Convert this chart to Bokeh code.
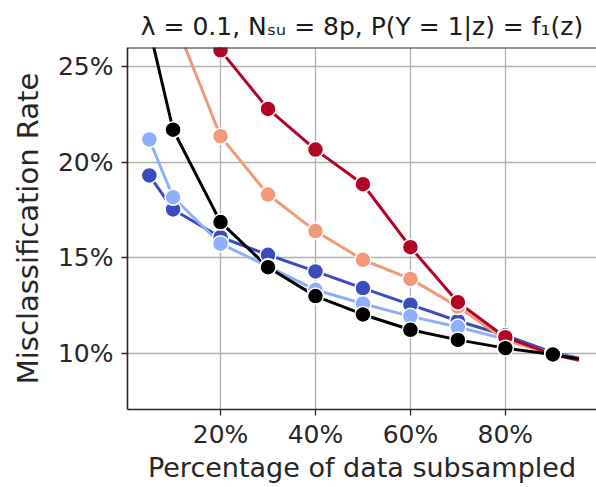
from bokeh.plotting import figure
from bokeh.models import Range1d, FixedTicker, PrintfTickFormatter, Span
from bokeh.embed import file_html
from bokeh.resources import INLINE

# ---- data (percent units) ----
pct = [5, 10, 20, 30, 40, 50, 60, 70, 80, 90]
line_end_x = 95.5

blue_dark = [19.31, 17.53, 16.08, 15.16, 14.29, 13.42, 12.55, 11.70, 10.95, 10.05]
blue_light = [21.19, 18.17, 15.74, 14.55, 13.33, 12.60, 11.94, 11.38, 10.75, 10.00]
salmon_x = [10, 20, 30, 40, 50, 60, 70, 80, 90]
salmon = [27.6, 21.36, 18.31, 16.40, 14.90, 13.90, 12.45, 10.70, 9.95]
red_x = [10, 20, 30, 40, 50, 60, 70, 80, 90]
red = [31.0, 25.85, 22.79, 20.66, 18.85, 15.56, 12.68, 10.85, 9.95]
black = [27.0, 21.70, 16.87, 14.51, 13.00, 12.04, 11.24, 10.71, 10.28, 9.95]
end_vals = {"blue_dark": 9.75, "blue_light": 9.72, "salmon": 9.68, "red": 9.65, "black": 9.72}

series = [
    ("blue_dark", pct, blue_dark, "#3b4cc0"),
    ("blue_light", pct, blue_light, "#8db0fe"),
    ("salmon", salmon_x, salmon, "#f4987a"),
    ("red", red_x, red, "#b40426"),
    ("black", pct, black, "#000000"),
]

x_ticks = [20, 40, 60, 80]
y_ticks = [10, 15, 20, 25]

title = "λ = 0.1, Nₛᵤ = 8p, P(Y = 1|z) = f₁(z)"

p = figure(width=596, height=487, output_backend="svg", toolbar_location=None,
           x_range=Range1d(0.4, 99.2), y_range=Range1d(7.07, 26.0),
           min_border_left=127, min_border_right=0, min_border_top=47,
           min_border_bottom=78, title=title)

p.title.text_font = "DejaVu Sans"
p.title.text_font_size = "25px"
p.title.text_font_style = "normal"
p.title.align = "center"
p.title.text_color = "#1a1a1a"
p.title.offset = 0
p.title.standoff = 14

p.outline_line_color = None
p.background_fill_color = "white"
p.border_fill_color = "white"

# grid
for g in (p.xgrid, p.ygrid):
    g.grid_line_color = "#b0b0b0"
    g.grid_line_width = 1.3
p.xgrid.ticker = FixedTicker(ticks=x_ticks)
p.ygrid.ticker = FixedTicker(ticks=y_ticks)

for ax in (p.xaxis[0], p.yaxis[0]):
    ax.axis_line_color = "#262626"
    ax.axis_line_width = 1.6
    ax.major_tick_line_color = "#262626"
    ax.major_tick_line_width = 1.3
    ax.major_tick_out = 6
    ax.major_tick_in = 0
    ax.minor_tick_line_color = None
    ax.major_label_text_font = "DejaVu Sans"
    ax.major_label_text_font_size = "25px"
    ax.major_label_text_color = "#262626"
    ax.axis_label_text_font = "DejaVu Sans"
    ax.axis_label_text_font_style = "normal"
    ax.axis_label_text_color = "#262626"
    ax.formatter = PrintfTickFormatter(format="%d%%")

p.xaxis.ticker = FixedTicker(ticks=x_ticks)
p.yaxis.ticker = FixedTicker(ticks=y_ticks)
p.xaxis.axis_label = "Percentage of data subsampled"
p.xaxis.axis_label_text_font_size = "27px"
p.xaxis.major_label_standoff = 4
p.xaxis.axis_label_standoff = 0
p.yaxis.axis_label = "Misclassification Rate"
p.yaxis.axis_label_text_font_size = "29px"
p.yaxis.major_label_standoff = 8
p.yaxis.axis_label_standoff = 10

# top spine
p.add_layout(Span(location=26.0, dimension="width", line_color="#262626", line_width=2))

for name, xs, ys, col in series:
    lx = list(xs) + [line_end_x]
    ly = list(ys) + [end_vals[name]]
    p.line(lx, ly, line_color=col, line_width=3)
for name, xs, ys, col in series:
    p.scatter(xs, ys, size=16, fill_color=col, line_color="white", line_width=1.5)

open("out.html", "w").write(file_html(p, INLINE))
